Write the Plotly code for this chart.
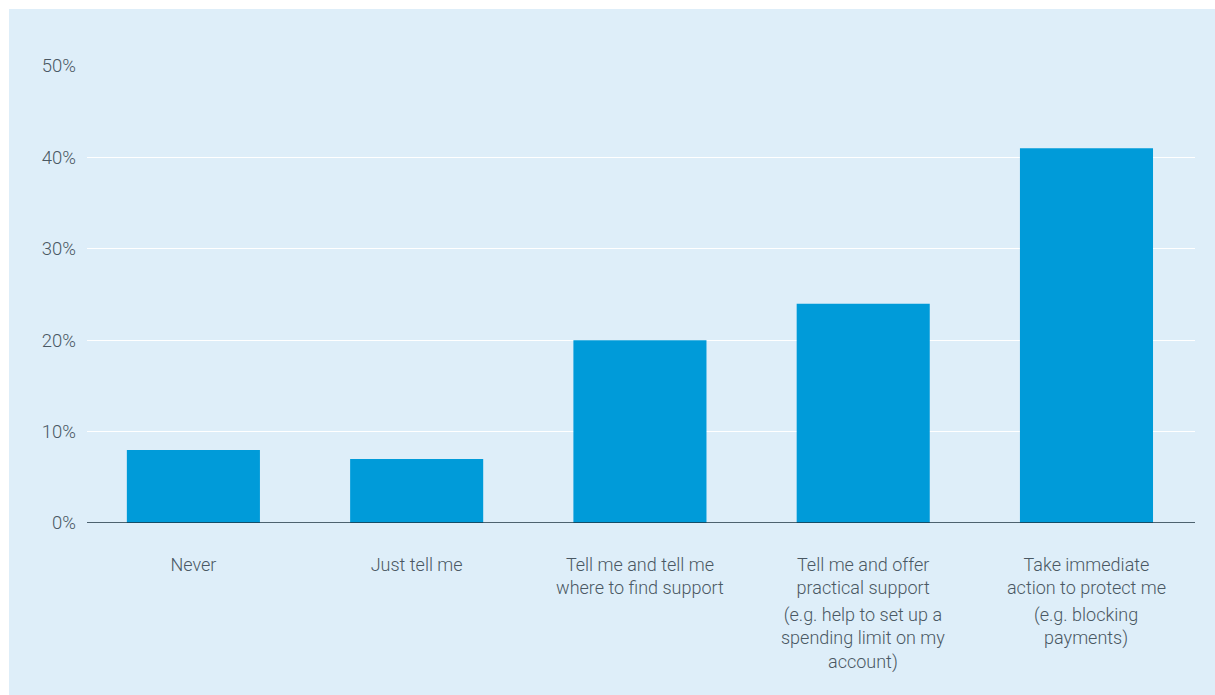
import plotly.graph_objects as go

categories = [
    "Never",
    "Just tell me",
    "Tell me and tell me<br>where to find support",
    "Tell me and offer<br>practical support",
    "Take immediate<br>action to protect me",
]
examples = [
    "",
    "",
    "",
    "(e.g. help to set up a<br>spending limit on my<br>account)",
    "(e.g. blocking<br>payments)",
]
values = [8, 7, 20, 24, 41]
y_ticks = [0, 10, 20, 30, 40, 50]
y_tick_labels = ["0%", "10%", "20%", "30%", "40%", "50%"]

W, H = 1215, 695
L, R, T, B = 87, 20, 66, 172
pw, ph = W - L - R, H - T - B

text_color = "#4a5863"
font_family = "Roboto, 'Open Sans', sans-serif"

x_idx = list(range(len(categories)))

fig = go.Figure(
    go.Bar(
        x=x_idx,
        y=values,
        marker=dict(color="#009bd9", line=dict(width=0)),
        width=0.596,
        hoverinfo="skip",
    )
)

# background panel
fig.add_shape(
    type="rect", xref="paper", yref="paper",
    x0=(9 - L) / pw, x1=(W - L + 5) / pw,
    y0=-(B + 5) / ph, y1=1 + (T - 9) / ph,
    fillcolor="#deeef9", line=dict(width=0), layer="below",
)

for i, ex in enumerate(examples):
    if ex:
        fig.add_annotation(
            x=i, xref="x", y=-(602 - 523) / ph, yref="paper",
            text=ex, showarrow=False, yanchor="top", xanchor="center",
            font=dict(size=18, color=text_color, family=font_family, weight=300),
            align="center",
        )

fig.update_layout(
    width=W, height=H,
    margin=dict(l=L, r=R, t=T, b=B, pad=0),
    paper_bgcolor="white",
    plot_bgcolor="rgba(0,0,0,0)",
    showlegend=False,
    font=dict(family=font_family, size=18, color=text_color, weight=300),
    xaxis=dict(
        range=[-0.4765, 4.486],
        tickmode="array", tickvals=x_idx, ticktext=categories,
        showgrid=False, ticks="", showline=False, zeroline=False,
        ticklabelstandoff=29,
        tickfont=dict(size=18, color=text_color, family=font_family, weight=300),
        fixedrange=True,
    ),
    yaxis=dict(
        range=[0, 50],
        tickmode="array", tickvals=y_ticks, ticktext=y_tick_labels,
        showgrid=True, gridcolor="white", gridwidth=1,
        zeroline=False, showline=False, ticks="",
        ticklabelstandoff=10,
        tickfont=dict(size=18.5, color=text_color, family=font_family, weight=300),
        fixedrange=True,
    ),
)

# zero baseline
fig.add_shape(
    type="line", xref="paper", yref="y", x0=0, x1=1, y0=0, y1=0,
    line=dict(color="#1d3340", width=1.5), layer="above",
)

fig.write_html("out.html")
